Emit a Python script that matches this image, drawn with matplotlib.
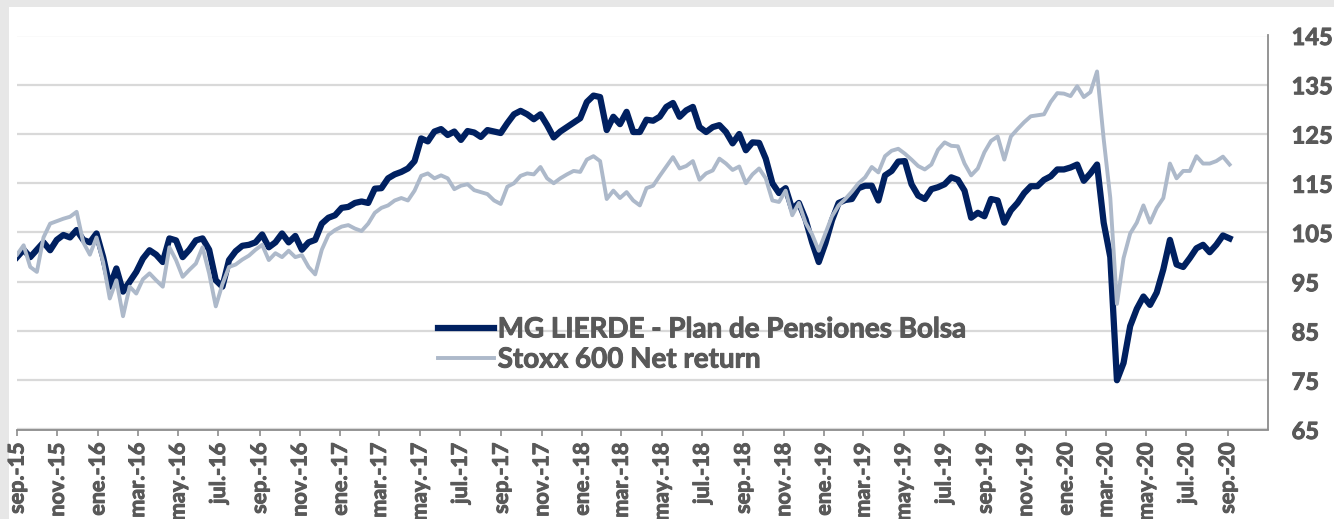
import numpy as np
import pandas as pd
import matplotlib
matplotlib.use('Agg')
import matplotlib.pyplot as plt
import matplotlib.patheffects as pe
from matplotlib.patches import Rectangle

plt.rcParams['font.family'] = ['Lato', 'DejaVu Sans']

# series, one value every 10 days from 1 sep 2015
start_date = '2015-09-01'
step = '10D'

mg_lierde = [
    100, 101.5, 100, 101.5, 103, 101.4, 103.5, 104.5, 104, 105.5,
    103.5, 103, 104.8, 100, 94, 97.7, 93, 95, 97, 99.7,
    101.4, 100.5, 99, 103.8, 103.4, 100, 101.5, 103.4, 103.8, 101.5,
    95.3, 94, 99.4,
    101.2, 102.3, 102.5, 103, 104.6, 102, 103, 104.8, 103, 104.3,
    101.5, 103, 103.5, 106.8, 108, 108.5, 110, 110.2, 111, 111.3,
    111, 113.9, 114, 116, 116.8, 117.3, 118, 119.5, 124.1, 123.5,
    125.5,
    126, 124.8, 125.5, 123.8, 125.6, 125.3, 124.4, 125.8, 125.5, 125.2,
    127.2, 129, 129.7, 129, 128, 129, 126.8, 124.3, 125.5, 126.4,
    127.3, 128.2, 131.5, 132.8, 132.5, 125.8, 128.5, 127, 129.5, 125.4,
    125.4, 127.9,
    127.7, 128.5, 130.5, 131.3, 128.5, 129.8, 130.5, 126.4, 125.4, 126.4,
    126.8, 125.4, 123.1, 125, 121.7, 123.3, 123.2, 120, 115, 113,
    114, 109.7, 111, 107.7, 103, 99, 102.8, 107.5, 111, 111.6,
    111.8, 114,
    114.5, 114.5, 111.5, 116.6, 117.5, 119.4, 119.5, 114.8, 112.5, 111.8,
    113.8, 114.2, 114.8, 116.2, 115.7, 113.5, 108, 109, 108.3, 111.8,
    111.5, 107, 109.5, 111, 113, 114.4, 114.4, 115.7, 116.4, 117.8,
    117.8,
    118.2, 118.8, 115.5, 117, 118.8, 107, 100, 75, 78.5, 86,
    89.5, 92, 90.3, 92.8, 97.5, 103.5, 98.5, 98, 99.8, 101.8,
    102.5, 101, 102.5, 104.4, 103.8,
]

stoxx_600 = [
    100.5, 102.4, 98, 97, 104, 106.8, 107.3, 107.8, 108.2, 109.2,
    103, 100.5, 104, 99, 91.6, 95.3, 88, 94, 92.6, 95.5,
    96.7, 95.3, 94, 102, 99.4, 96, 97.4, 98.7, 102, 96.7,
    90, 94.5, 98,
    98.5, 99.5, 100.3, 101.5, 102.5, 99.4, 100.8, 100, 101.3, 100,
    100.4, 98, 96.5, 101.5, 104.5, 105.5, 106.2, 106.5, 105.8, 105.3,
    106.8, 109, 110, 110.5, 111.5, 112, 111.5, 113.5, 116.5, 117,
    116,
    116.6, 116, 113.8, 114.5, 114.8, 113.6, 113.2, 112.8, 111.5, 110.8,
    114.3, 115, 116.5, 117, 116.8, 118.3, 116, 115, 116, 116.8,
    117.5, 117.3, 119.8, 120.5, 119.5, 111.8, 113.5, 112, 113.2, 111.5,
    110.5, 114,
    114.5, 116.5, 118.4, 120.3, 118, 118.5, 119.5, 115.7, 117, 117.6,
    120, 119, 117.7, 118.4, 115, 116.8, 118, 116, 111.5, 111.2,
    113.5, 108.5, 111, 107, 104.6, 101.3, 104.8, 108.3, 110.5, 111.8,
    113.3, 115,
    116.2, 118.3, 117.2, 120.5, 121.6, 122, 121, 119.8, 118.5, 117.8,
    118.8, 121.8, 123.3, 122.6, 122.5, 119, 116.6, 118, 121.3, 123.6,
    124.5, 119.8, 124.5, 126, 127.4, 128.6, 128.8, 129, 131.5, 133.3,
    133.2,
    132.7, 134.7, 132.5, 133.5, 137.7, 124, 112, 90.5, 99.8, 104.8,
    107, 110.5, 107, 110, 112, 119, 116, 117.5, 117.5, 120.5,
    119, 119, 119.5, 120.4, 118.8,
]

series_names = ['MG LIERDE - Plan de Pensiones Bolsa', 'Stoxx 600 Net return']

tick_dates = pd.date_range('2015-09-01', '2020-09-01', freq='2MS')
mes = {1: 'ene.', 3: 'mar.', 5: 'may.', 7: 'jul.', 9: 'sep.', 11: 'nov.'}
tick_labels = [mes[d.month] + '-' + d.strftime('%y') for d in tick_dates]
y_ticks = np.arange(65, 146, 10)

dates = pd.date_range(start_date, periods=len(mg_lierde), freq=step)

navy = '#002060'
light = '#adb9ca'
txt = '#595959'
# a thin stroke of the same colour makes the text look heavier, like the original
heavy = [pe.withStroke(linewidth=0.7, foreground=txt)]

fig = plt.figure(figsize=(13.34, 5.19), dpi=100)
fig.patch.set_facecolor('#e7e7e7')
# white panel, grey border only on top and left
fig.patches.append(Rectangle((9 / 1334, 0), 1, 1 - 7 / 519, transform=fig.transFigure,
                             facecolor='white', edgecolor='none', zorder=-10))

ax = fig.add_axes([17 / 1334, 1 - 429.5 / 519, (1268 - 17) / 1334, 394 / 519])
ax.set_facecolor('none')

l1, = ax.plot(dates, mg_lierde, color=navy, lw=4.5, solid_joinstyle='round', zorder=3)
l2, = ax.plot(dates, stoxx_600, color=light, lw=2.8, solid_joinstyle='round', zorder=4)

ax.set_xlim(pd.Timestamp('2015-09-01'), pd.Timestamp('2020-11-01'))
ax.set_ylim(65, 145)

ax.yaxis.tick_right()
ax.set_yticks(y_ticks)
ax.set_yticklabels([str(v) for v in y_ticks], fontsize=17, fontweight='bold', color=txt)
ax.tick_params(axis='y', length=0, pad=17)
for lab in ax.get_yticklabels():
    lab.set_horizontalalignment('left')
    lab.set_path_effects(heavy)

ax.set_xticks(tick_dates)
ax.set_xticklabels(tick_labels, rotation=90, fontsize=15.5, fontweight='bold', color=txt)
ax.tick_params(axis='x', length=4.5, width=1.2, color='#8c8c8c', pad=5)
for lab in ax.get_xticklabels():
    lab.set_path_effects(heavy)

ax.grid(axis='y', color='#d9d9d9', lw=1.6, zorder=0)
ax.set_axisbelow(True)

for s in ['left', 'top']:
    ax.spines[s].set_visible(False)
for s in ['right', 'bottom']:
    ax.spines[s].set_color('#8c8c8c')
    ax.spines[s].set_linewidth(1.3)

leg = ax.legend([l1, l2], series_names, loc='center left',
                bbox_to_anchor=((438 - 17) / 1251, (429.5 - 344.5) / 394),
                frameon=False, handlelength=2.0, handletextpad=0.15,
                labelspacing=0.15, borderaxespad=0, borderpad=0,
                prop={'size': 20, 'weight': 'bold'})
for t in leg.get_texts():
    t.set_color(txt)
    t.set_path_effects(heavy)

plt.savefig('out.png', dpi=100, facecolor=fig.get_facecolor())
